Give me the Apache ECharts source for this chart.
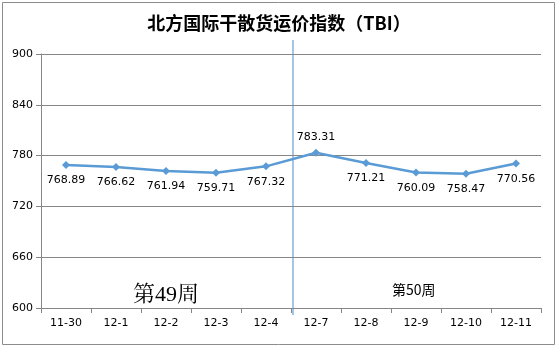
<!DOCTYPE html>
<html><head><meta charset="utf-8">
<script src="https://cdn.jsdelivr.net/npm/echarts@6/dist/echarts.min.js"></script>
<style>html,body{margin:0;padding:0;background:#fff}#c{width:558px;height:348px}</style>
</head><body><div id="c"></div>
<script>
const categories = ['11-30','12-1','12-2','12-3','12-4','12-7','12-8','12-9','12-10','12-11'];
const values = [768.89,766.62,761.94,759.71,767.32,783.31,771.21,760.09,758.47,770.56];
const yTicks = [600,660,720,780,840,900];
const titleText = '北方国际干散货运价指数（TBI）';
const week1 = '第49周', week2 = '第50周';

const chart = echarts.init(document.getElementById('c'));
const data = values.map((v,i)=>({value:v,label:{position: i===5?'top':'bottom'}}));
chart.setOption({
  animation:false,
  title:{text:titleText,left:'center',top:9,textStyle:{fontFamily:'Noto Sans CJK SC',fontWeight:'bold',fontSize:18,color:'#000'}},
  grid:{left:41,right:17,top:54,bottom:40},
  xAxis:{type:'category',data:categories,boundaryGap:true,
    axisLine:{lineStyle:{color:'#868686'}},
    axisTick:{show:true,alignWithLabel:false,length:5,lineStyle:{color:'#868686'}},
    axisLabel:{color:'#000',fontSize:11,fontFamily:'DejaVu Sans',margin:10}},
  yAxis:{type:'value',min:yTicks[0],max:yTicks[yTicks.length-1],interval:60,
    axisLine:{show:true,lineStyle:{color:'#868686'}},
    axisTick:{show:true,length:5,inside:false,lineStyle:{color:'#868686'}},
    splitLine:{lineStyle:{color:'#868686'}},
    axisLabel:{color:'#000',fontSize:11,fontFamily:'DejaVu Sans',margin:8}},
  series:[{type:'line',data:data,symbol:'diamond',symbolSize:8,
    itemStyle:{color:'#5B9BD5'},lineStyle:{color:'#5B9BD5',width:2.5},
    label:{show:true,color:'#000',fontSize:11,fontFamily:'DejaVu Sans',distance:6,formatter:p=>p.value.toFixed(2)}}],
  graphic:[
    {type:'rect',shape:{x:2.5,y:2.5,width:552,height:342},style:{fill:'none',stroke:'#8c8c8c',lineWidth:1}},
    {type:'line',shape:{x1:293,y1:40,x2:293,y2:315},style:{stroke:'#A6C4E3',lineWidth:2}},
    {type:'text',left:133,top:284,style:{text:week1,font:'22px "Liberation Serif","Noto Serif CJK SC",serif',fill:'#000'}},
    {type:'text',left:392,top:283,style:{text:week2,font:'14px "Noto Sans CJK SC",sans-serif',fill:'#000'}}
  ]
});
</script></body></html>
